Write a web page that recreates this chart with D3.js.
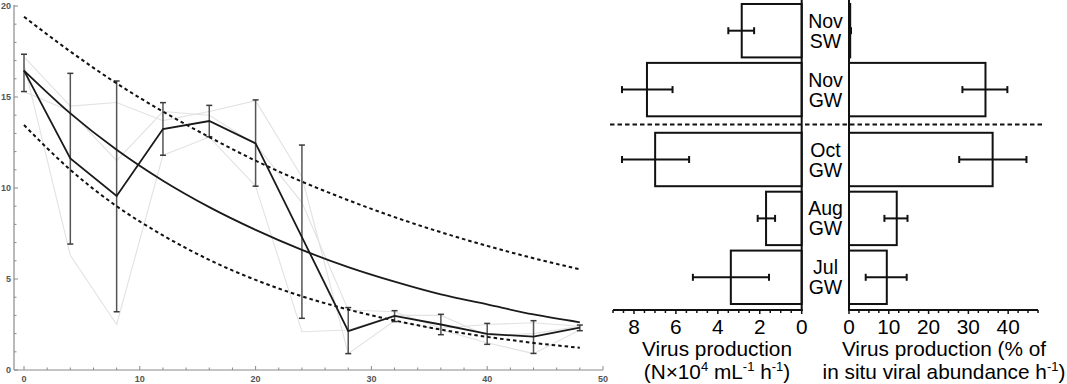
<!DOCTYPE html>
<html>
<head>
<meta charset="utf-8">
<script src="https://cdn.jsdelivr.net/npm/d3@7"></script>
<style>
  body {margin:0; background:#fff;}
  svg {display:block;}
</style>
</head>
<body>
<svg width="1067" height="384"></svg>
<script>
// ---- left panel: time course ----
var hours = [0, 4, 8, 12, 16, 20, 24, 28, 32, 36, 40, 44, 48];
var meanVals = [16.45, 11.63, 9.56, 13.24, 13.68, 12.45, 7.3, 2.14, 2.97, 2.5, 1.98, 1.83, 2.33];
var errHi = [17.35, 16.3, 15.88, 14.69, 14.54, 14.84, 12.36, 3.43, 3.26, 3.06, 2.56, 2.71, 2.47];
var errLo = [15.3, 6.92, 3.2, 11.8, 12.82, 10.1, 2.84, 0.9, 2.66, 1.94, 1.41, 0.91, 2.16];
var repA = [17.2, 14.5, 14.7, 13.7, 14.2, 14.8, 10.6, 0.9, 2.7, 2.2, 1.5, 0.9, 2.2];
var repB = [15.3, 14.2, 11.5, 14.2, 14.0, 12.4, 9.2, 3.3, 3.2, 2.3, 2.5, 2.6, 2.4];
var repC = [16.8, 6.3, 2.5, 11.8, 12.8, 10.1, 2.1, 2.2, 3.0, 3.0, 1.9, 2.0, 2.4];
var fitVals = [16.45, 14.1, 12.1, 10.4, 8.95, 7.7, 6.6, 5.65, 4.85, 4.15, 3.6, 3.05, 2.62];
var upperVals = [19.41, 17.5, 15.75, 14.2, 12.8, 11.5, 10.35, 9.33, 8.4, 7.57, 6.82, 6.14, 5.53];
var lowerVals = [13.46, 11.0, 9.0, 7.4, 6.05, 4.95, 4.05, 3.32, 2.72, 2.22, 1.82, 1.49, 1.22];
var xTicks = [0, 10, 20, 30, 40, 50];
var yTicks = [0, 5, 10, 15, 20];

// ---- right panel: virus production ----
var sites = ["Nov SW", "Nov GW", "Oct GW", "Aug GW", "Jul GW"];
var prodAbs = [2.86, 7.38, 6.99, 1.70, 3.38];
var prodAbsLo = [2.27, 6.16, 5.37, 1.27, 1.56];
var prodAbsHi = [3.50, 8.57, 8.57, 2.10, 5.19];
var prodPct = [0.3, 34.3, 36.1, 12.0, 9.5];
var prodPctLo = [0.1, 28.5, 27.7, 8.9, 4.2];
var prodPctHi = [0.5, 39.8, 44.6, 14.7, 14.5];
var absTicks = [0, 2, 4, 6, 8];
var pctTicks = [0, 10, 20, 30, 40];

var svg = d3.select("svg");

// ===== left panel =====
var x = d3.scaleLinear().domain([0, 50]).range([24, 603]);
var y = d3.scaleLinear().domain([0, 20]).range([370, 6]);
var L = svg.append("g");
var axisCol = "#8a8a8a";

L.append("line").attr("x1", 14).attr("x2", x(50)).attr("y1", y(0)).attr("y2", y(0))
  .attr("stroke", axisCol).attr("stroke-width", 1.2);
L.append("line").attr("x1", 14).attr("x2", 14).attr("y1", y(0)).attr("y2", y(20) - 1)
  .attr("stroke", axisCol).attr("stroke-width", 1.2);

d3.range(0, 51, 2).forEach(function(t) {
  var major = t % 10 === 0;
  L.append("line").attr("x1", x(t)).attr("x2", x(t)).attr("y1", y(0)).attr("y2", y(0) - (major ? 4 : 2.5))
    .attr("stroke", axisCol);
});
d3.range(0, 21, 1).forEach(function(v) {
  var major = v % 5 === 0;
  L.append("line").attr("x1", 14).attr("x2", 14 + (major ? 4 : 2.5)).attr("y1", y(v)).attr("y2", y(v))
    .attr("stroke", axisCol);
});
L.selectAll(".xl").data(xTicks).enter().append("text")
  .attr("x", function(d) { return x(d); }).attr("y", 382)
  .attr("text-anchor", "middle").attr("font-family", "Liberation Sans, Arial")
  .attr("font-size", 9).attr("font-weight", "bold").attr("fill", "#555")
  .text(function(d) { return d; });
L.selectAll(".yl").data(yTicks).enter().append("text")
  .attr("x", 11).attr("y", function(d) { return y(d) + 3; })
  .attr("text-anchor", "end").attr("font-family", "Liberation Sans, Arial")
  .attr("font-size", 9).attr("font-weight", "bold").attr("fill", "#555")
  .text(function(d) { return d; });

var line = d3.line().x(function(d, i) { return x(hours[i]); }).y(function(d) { return y(d); });
var smooth = d3.line().x(function(d, i) { return x(hours[i]); }).y(function(d) { return y(d); })
  .curve(d3.curveMonotoneX);

[repA, repB, repC].forEach(function(r) {
  L.append("path").attr("d", line(r)).attr("fill", "none").attr("stroke", "#e2e2e2").attr("stroke-width", 1.1);
});

hours.forEach(function(h, i) {
  var g = L.append("g").attr("stroke", "#3a3a3a").attr("stroke-width", 1.5);
  g.append("line").attr("x1", x(h)).attr("x2", x(h)).attr("y1", y(errLo[i])).attr("y2", y(errHi[i]))
    .attr("stroke", "#555");
  g.append("line").attr("x1", x(h) - 3).attr("x2", x(h) + 3).attr("y1", y(errLo[i])).attr("y2", y(errLo[i]));
  g.append("line").attr("x1", x(h) - 3).attr("x2", x(h) + 3).attr("y1", y(errHi[i])).attr("y2", y(errHi[i]));
});

L.append("path").attr("d", smooth(upperVals)).attr("fill", "none").attr("stroke", "#111")
  .attr("stroke-width", 2).attr("stroke-dasharray", "3.5,3");
L.append("path").attr("d", smooth(lowerVals)).attr("fill", "none").attr("stroke", "#111")
  .attr("stroke-width", 2).attr("stroke-dasharray", "3.5,3");
L.append("path").attr("d", smooth(fitVals)).attr("fill", "none").attr("stroke", "#1a1a1a").attr("stroke-width", 1.8);
L.append("path").attr("d", line(meanVals)).attr("fill", "none").attr("stroke", "#1a1a1a").attr("stroke-width", 1.8);

// ===== right panel =====
var R = svg.append("g");
var xa = d3.scaleLinear().domain([0, 9]).range([801.7, 613]);
var xp = d3.scaleLinear().domain([0, 47.5]).range([849, 1038]);
var yb = d3.scaleBand().domain(sites).range([1.25, 295.75]).paddingInner(0.093).paddingOuter(0.0465);
var sepShift = 11;
function rowY(s) { return yb(s) + (sites.indexOf(s) >= 2 ? sepShift : 0); }
var axisY = 310;
var font = "Liberation Sans, Arial, Helvetica";
var fs = 20.8, sup = 13;

// bars
sites.forEach(function(s, i) {
  var top = rowY(s), h = yb.bandwidth(), mid = top + h / 2;
  R.append("rect").attr("x", xa(prodAbs[i])).attr("y", top).attr("width", xa(0) - xa(prodAbs[i])).attr("height", h)
    .attr("fill", "#fff").attr("stroke", "#111").attr("stroke-width", 2);
  R.append("line").attr("x1", xa(prodAbsHi[i])).attr("x2", xa(prodAbsLo[i])).attr("y1", mid).attr("y2", mid)
    .attr("stroke", "#111").attr("stroke-width", 2);
  [prodAbsHi[i], prodAbsLo[i]].forEach(function(v) {
    R.append("line").attr("x1", xa(v)).attr("x2", xa(v)).attr("y1", mid - 3.5).attr("y2", mid + 3.5)
      .attr("stroke", "#111").attr("stroke-width", 2);
  });
  R.append("rect").attr("x", xp(0)).attr("y", top).attr("width", xp(prodPct[i]) - xp(0)).attr("height", h)
    .attr("fill", "#fff").attr("stroke", "#111").attr("stroke-width", 2);
  R.append("line").attr("x1", xp(prodPctLo[i])).attr("x2", xp(prodPctHi[i])).attr("y1", mid).attr("y2", mid)
    .attr("stroke", "#111").attr("stroke-width", 2);
  [prodPctLo[i], prodPctHi[i]].forEach(function(v) {
    R.append("line").attr("x1", xp(v)).attr("x2", xp(v)).attr("y1", mid - 3.5).attr("y2", mid + 3.5)
      .attr("stroke", "#111").attr("stroke-width", 2);
  });
  var parts = s.split(" ");
  var t = R.append("text").attr("text-anchor", "middle").attr("font-family", font).attr("font-size", 19.5)
    .attr("fill", "#000");
  t.append("tspan").attr("x", 825.5).attr("y", mid - 3).text(parts[0]);
  t.append("tspan").attr("x", 825.5).attr("y", mid + 17).text(parts[1]);
});

// vertical axes
R.append("line").attr("x1", xa(0)).attr("x2", xa(0)).attr("y1", 0).attr("y2", axisY + 1)
  .attr("stroke", "#111").attr("stroke-width", 2);
R.append("line").attr("x1", xp(0)).attr("x2", xp(0)).attr("y1", 0).attr("y2", axisY + 1)
  .attr("stroke", "#111").attr("stroke-width", 2);

// separator
var sepY = rowY("Nov GW") + yb.bandwidth() + (rowY("Oct GW") - rowY("Nov GW") - yb.bandwidth()) / 2;
R.append("line").attr("x1", 610).attr("x2", 1042).attr("y1", sepY).attr("y2", sepY)
  .attr("stroke", "#111").attr("stroke-width", 2).attr("stroke-dasharray", "4.5,3");

// bottom axes
R.append("line").attr("x1", xa(9)).attr("x2", xa(0) + 1).attr("y1", axisY).attr("y2", axisY)
  .attr("stroke", "#111").attr("stroke-width", 2);
R.append("line").attr("x1", xp(0) - 1).attr("x2", xp(47.5)).attr("y1", axisY).attr("y2", axisY)
  .attr("stroke", "#111").attr("stroke-width", 2);
d3.range(0, 9.01, 0.5).forEach(function(v) {
  R.append("line").attr("x1", xa(v)).attr("x2", xa(v)).attr("y1", axisY).attr("y2", axisY + (v % 2 === 0 ? 4 : 3))
    .attr("stroke", "#111").attr("stroke-width", 1.5);
});
d3.range(0, 47.6, 2.5).forEach(function(v) {
  R.append("line").attr("x1", xp(v)).attr("x2", xp(v)).attr("y1", axisY).attr("y2", axisY + (v % 10 === 0 ? 4 : 3))
    .attr("stroke", "#111").attr("stroke-width", 1.5);
});
R.selectAll(".al").data(absTicks).enter().append("text")
  .attr("x", function(d) { return xa(d); }).attr("y", 334).attr("text-anchor", "middle")
  .attr("font-family", font).attr("font-size", fs).text(function(d) { return d; });
R.selectAll(".pl").data(pctTicks).enter().append("text")
  .attr("x", function(d) { return xp(d); }).attr("y", 334).attr("text-anchor", "middle")
  .attr("font-family", font).attr("font-size", fs).text(function(d) { return d; });

// axis titles
var t1 = R.append("text").attr("text-anchor", "middle").attr("font-family", font).attr("font-size", fs);
t1.append("tspan").attr("x", 717).attr("y", 355.5).text("Virus production");
var l2 = t1.append("tspan").attr("x", 717).attr("y", 379);
l2.append("tspan").text("(N\u00d710");
l2.append("tspan").attr("font-size", sup).attr("dy", -8).text("4");
l2.append("tspan").attr("dy", 8).text(" mL");
l2.append("tspan").attr("font-size", sup).attr("dy", -8).text("-1");
l2.append("tspan").attr("dy", 8).text(" h");
l2.append("tspan").attr("font-size", sup).attr("dy", -8).text("-1");
l2.append("tspan").attr("dy", 8).text(")");

var t2 = R.append("text").attr("text-anchor", "middle").attr("font-family", font).attr("font-size", fs);
t2.append("tspan").attr("x", 944).attr("y", 355.5).text("Virus production (% of");
var m2 = t2.append("tspan").attr("x", 944).attr("y", 379);
m2.append("tspan").text("in situ viral abundance h");
m2.append("tspan").attr("font-size", sup).attr("dy", -8).text("-1");
m2.append("tspan").attr("dy", 8).text(")");
</script>
</body>
</html>
